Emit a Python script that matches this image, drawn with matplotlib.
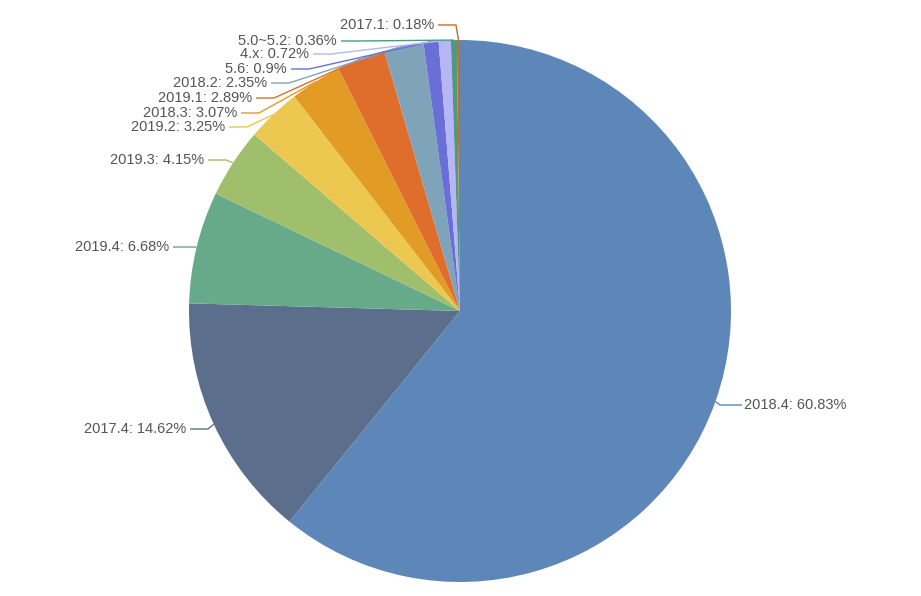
import numpy as np
import matplotlib
matplotlib.use("Agg")
import matplotlib.pyplot as plt

labels = ["2018.4", "2017.4", "2019.4", "2019.3", "2019.2", "2018.3",
          "2019.1", "2018.2", "5.6", "4.x", "5.0~5.2", "2017.1"]
values = [60.83, 14.62, 6.68, 4.15, 3.25, 3.07, 2.89, 2.35, 0.9, 0.72, 0.36, 0.18]
value_text = ["60.83%", "14.62%", "6.68%", "4.15%", "3.25%", "3.07%",
              "2.89%", "2.35%", "0.9%", "0.72%", "0.36%", "0.18%"]
colors = ["#5d86b9", "#5b6f8c", "#66aa89", "#a0bf6c", "#ecc851", "#e29b25",
          "#df6e2c", "#7fa4b9", "#6a6fd7", "#b5b5f8", "#4d9a80", "#c36d26"]

# layout (pixel coords of label text anchor: x edge nearest the pie, y centre)
label_xy = [(744, 405), (186, 429), (169, 247), (204, 160), (225, 127), (237, 113),
            (252, 98), (267, 83), (287, 69), (309, 54), (337, 41), (434, 25)]

W, H = 921, 596
cx, cy_px, R = 460, 311, 271
fig = plt.figure(figsize=(W / 100, H / 100), dpi=100)
ax = fig.add_axes([0, 0, 1, 1])
cy = H - cy_px

wedges, _ = ax.pie(values, colors=colors, startangle=90, counterclock=False,
                   center=(cx, cy), radius=R, wedgeprops=dict(linewidth=0))
ax.set_xlim(0, W)
ax.set_ylim(0, H)
ax.set_aspect("equal")
ax.axis("off")

for w, lab, vt, col, (tx, ty_px) in zip(wedges, labels, value_text, colors, label_xy):
    ang = np.deg2rad((w.theta1 + w.theta2) / 2)
    rx = cx + R * np.cos(ang)
    ry = cy + R * np.sin(ang)
    ty = H - ty_px
    right = tx > cx
    if right:
        ex = tx - 24
        x_text_line = tx - 2
    else:
        ex = tx + 22
        x_text_line = tx + 4
    ax.plot([rx, ex, x_text_line], [ry, ty, ty], color=col, lw=1, solid_capstyle="butt")
    ax.text(tx, ty, f"{lab}: {vt}", ha="left" if right else "right", va="center",
            fontsize=10.5, color="#555555", family=["Liberation Sans", "DejaVu Sans"])

fig.savefig("out.png", dpi=100, facecolor="white")
